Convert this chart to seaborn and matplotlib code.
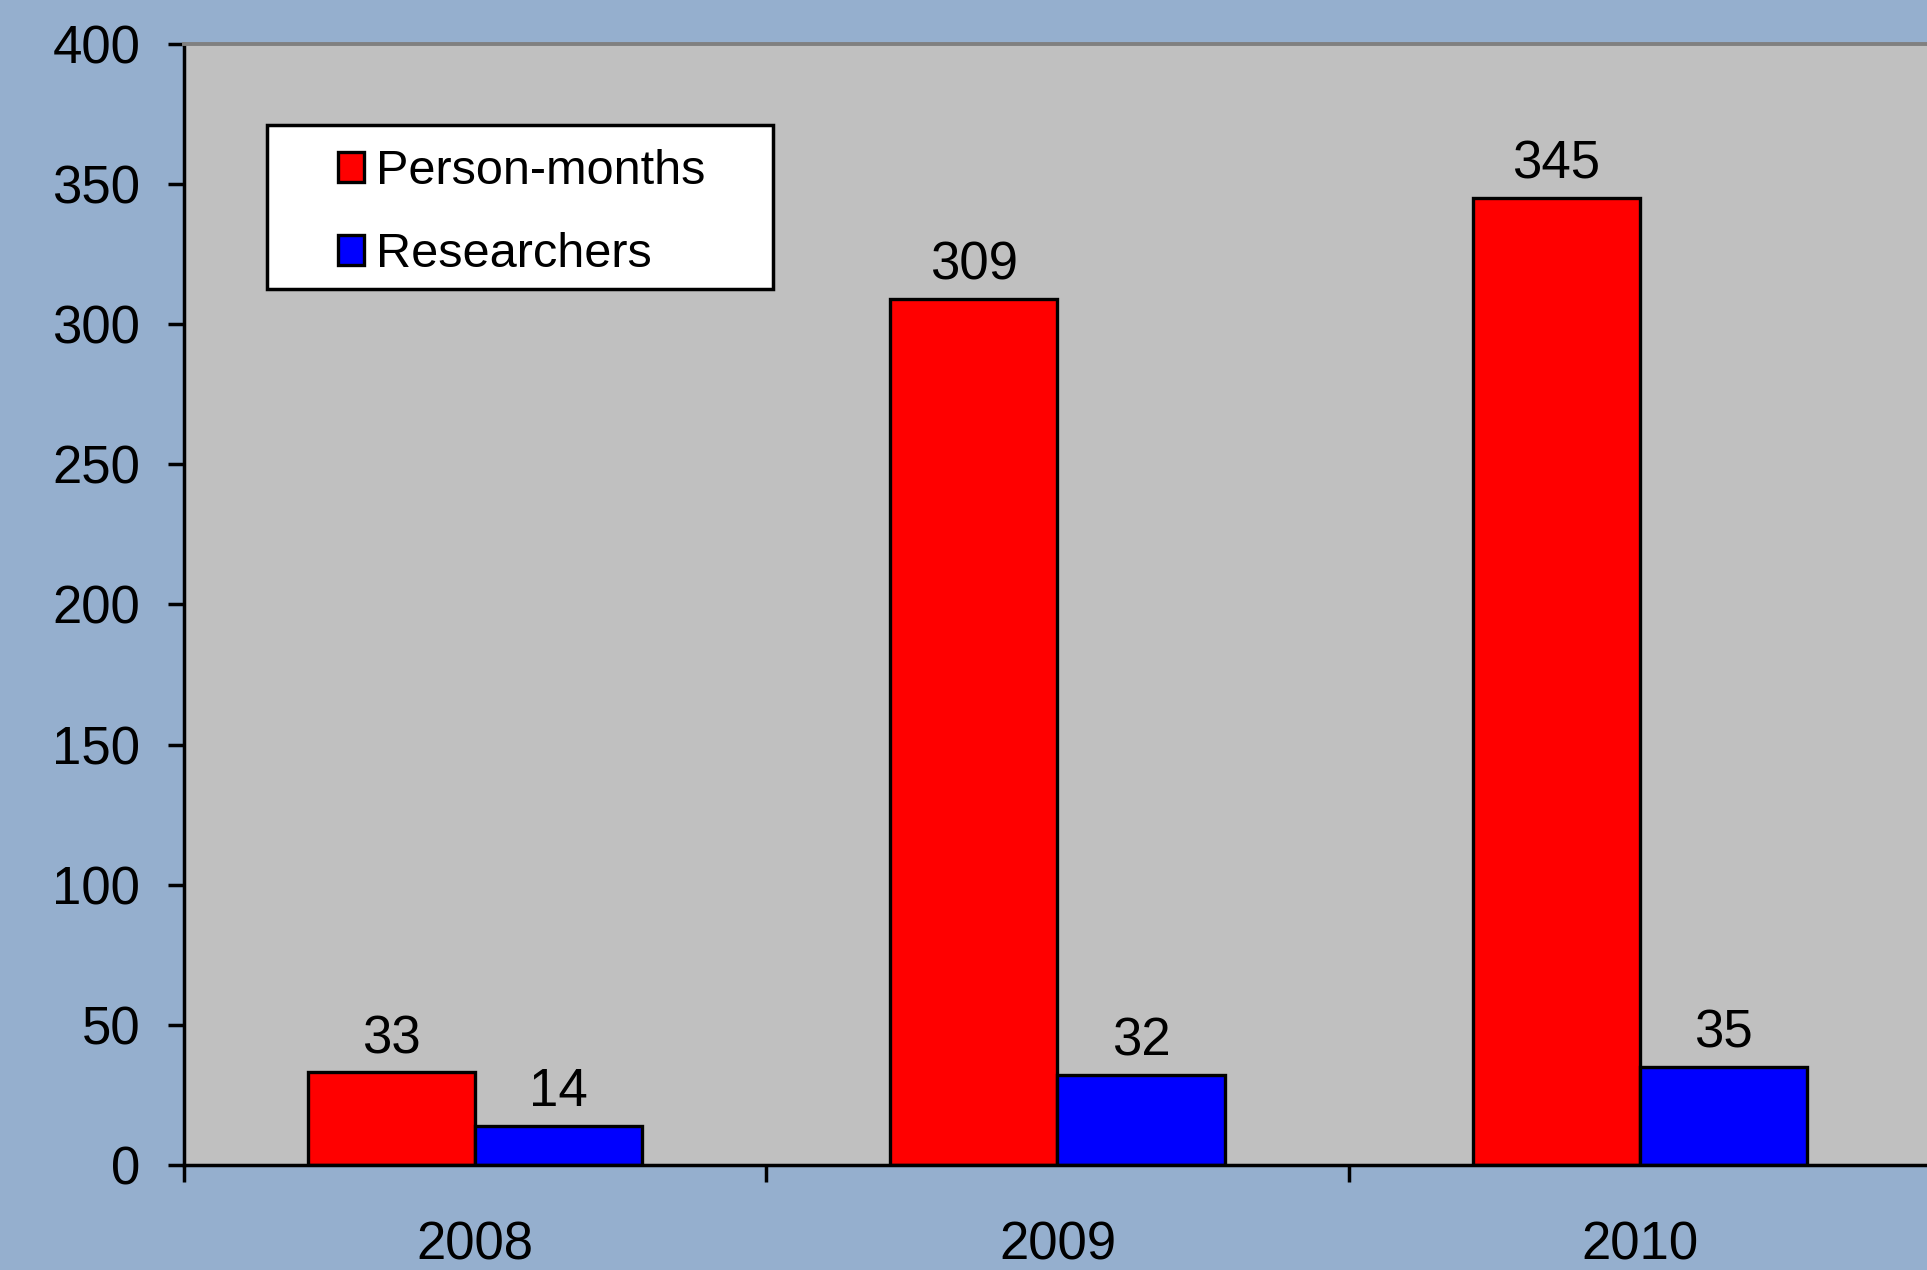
import pandas as pd
import numpy as np
import matplotlib
matplotlib.use("Agg")
import matplotlib.pyplot as plt
import seaborn as sns
from matplotlib.patches import Patch, Rectangle
from matplotlib.ticker import NullFormatter

# chart data
years = ['2008', '2009', '2010']
person_months = [33, 309, 345]
researchers = [14, 32, 35]
series_names = ['Person-months', 'Researchers']
series_colors = ['#FF0000', '#0000FF']

df = pd.DataFrame({
    'Year': years * 2,
    'Value': person_months + researchers,
    'Series': [series_names[0]] * 3 + [series_names[1]] * 3,
})

plt.rcParams['font.family'] = ['Liberation Sans', 'DejaVu Sans']

fig = plt.figure(figsize=(19.27, 12.7), dpi=100)
fig.patch.set_facecolor('#95AFCE')
ax = fig.add_axes([0.0955, 0.0827, 0.9065, 0.8827])
ax.set_facecolor('#C0C0C0')

sns.barplot(data=df, x='Year', y='Value', hue='Series', hue_order=series_names,
            palette=series_colors, saturation=1, width=0.574, gap=0,
            edgecolor='black', linewidth=2.4, errorbar=None, legend=False, ax=ax)

# value labels
for cont in ax.containers:
    ax.bar_label(cont, fontsize=38, padding=6)

ax.set_ylim(0, 400)
ax.set_xlim(-0.5, 2.5)
ax.set_yticks(np.arange(0, 401, 50))
ax.set_xlabel('')
ax.set_ylabel('')

# category separators as major ticks, year labels as minor ticks
ax.set_xticks([-0.5, 0.5, 1.5, 2.5])
ax.xaxis.set_major_formatter(NullFormatter())
ax.set_xticks([0, 1, 2], labels=years, minor=True)
ax.tick_params(axis='x', which='major', length=12, width=2.5, direction='out', color='black')
ax.tick_params(axis='x', which='minor', length=0, pad=40, labelsize=38)
ax.tick_params(axis='y', length=11.5, width=2.5, direction='out', pad=20, labelsize=38)

for side in ['left', 'bottom']:
    ax.spines[side].set_color('black')
    ax.spines[side].set_linewidth(2.5)
ax.spines['top'].set_color('#808080')
ax.spines['top'].set_linewidth(2.8)
ax.spines['right'].set_visible(False)

# legend box
ax.add_patch(Rectangle((0.0475, 0.7814), 0.2898, 0.1463, transform=ax.transAxes,
                       facecolor='white', edgecolor='black', linewidth=2.5, zorder=5))
handles = [Patch(facecolor=c, edgecolor='black', linewidth=2.4) for c in series_colors]
leg = ax.legend(handles, series_names, loc='upper left', bbox_to_anchor=(0.0882, 0.906),
                frameon=False, fontsize=35, borderpad=0, borderaxespad=0,
                handlelength=0.53, handleheight=0.58, handletextpad=0.25, labelspacing=0.78)
leg.set_zorder(6)

fig.savefig('out.png', dpi=100, facecolor=fig.get_facecolor())
